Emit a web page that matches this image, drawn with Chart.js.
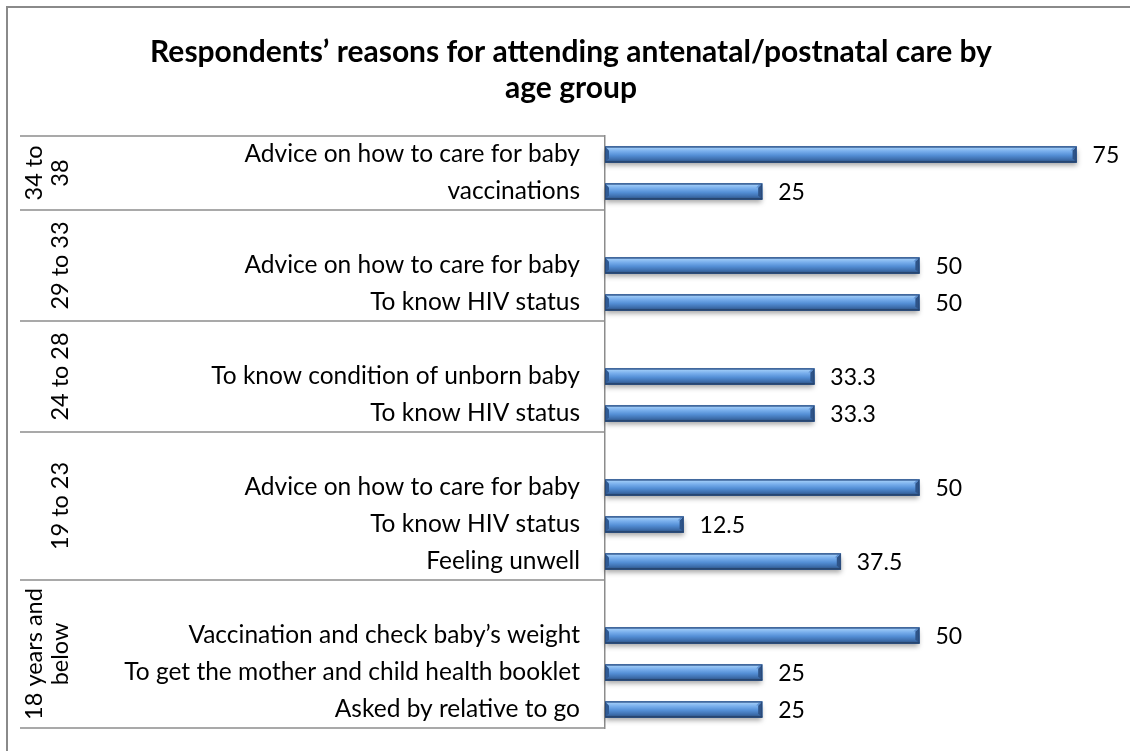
<!DOCTYPE html>
<html>
<head>
<meta charset="utf-8">
<script src="https://cdn.jsdelivr.net/npm/chart.js@4/dist/chart.umd.min.js"></script>
<style>
  html, body { margin: 0; padding: 0; background: #fff; }
  canvas { display: block; }
</style>
</head>
<body>
<canvas id="c" width="1130" height="751"></canvas>
<script>
// Reasons, listed top to bottom; empty strings are spacer rows at the head of a group
const reasons = [
  'Advice on how to care for baby',
  'vaccinations',
  '',
  'Advice on how to care for baby',
  'To know HIV status',
  '',
  'To know condition of unborn baby',
  'To know HIV status',
  '',
  'Advice on how to care for baby',
  'To know HIV status',
  'Feeling unwell',
  '',
  'Vaccination and check baby\u2019s weight',
  'To get the mother and child health booklet',
  'Asked by relative to go'
];

// Percentage of respondents per reason (null = spacer row)
const percents = [75, 25, null, 50, 50, null, 33.3, 33.3, null, 50, 12.5, 37.5, null, 50, 25, 25];

// Age groups, each label split into lines, and how many rows each group spans
const ageGroups = [['34 to', '38'], ['29 to 33'], ['24 to 28'], ['19 to 23'], ['18 years and', 'below']];
const groupRows = [2, 3, 3, 4, 4];

const titleLines = ['Respondents\u2019 reasons for attending antenatal/postnatal care by', 'age group'];

const FONT = 'Lato, "Open Sans", sans-serif';
const LINE = '#8c8c8c';
const LABEL_SIZE = 24.5;
const GROUP_SIZE = 23.5;
const VALUE_SIZE = 23;

// Cylinder-like bar shading with bevelled ends and a soft drop shadow
const bevelBars = {
  id: 'bevelBars',
  afterDatasetsDraw(chart) {
    const ctx = chart.ctx;
    chart.getDatasetMeta(0).data.forEach((bar, i) => {
      if (percents[i] == null) return;
      const x0 = Math.min(bar.base, bar.x), x1 = Math.max(bar.base, bar.x);
      const h = bar.height, y0 = bar.y - h / 2, y1 = bar.y + h / 2;
      ctx.save();
      ctx.shadowColor = 'rgba(0,0,0,0.35)';
      ctx.shadowBlur = 5;
      ctx.shadowOffsetY = 3;
      ctx.fillStyle = '#3d6aa6';
      ctx.fillRect(x0, y0, x1 - x0, h);
      ctx.restore();

      ctx.save();
      const g = ctx.createLinearGradient(0, y0, 0, y1);
      g.addColorStop(0.0, '#4f7fbf');
      g.addColorStop(0.12, '#98c6f5');
      g.addColorStop(0.3, '#78aeec');
      g.addColorStop(0.55, '#548fd6');
      g.addColorStop(0.8, '#3e6fae');
      g.addColorStop(1.0, '#2b4e7e');
      ctx.fillStyle = g;
      ctx.fillRect(x0, y0, x1 - x0, h);

      const b = 4;
      ctx.fillStyle = '#2e5489';
      ctx.beginPath();
      ctx.moveTo(x1, y0); ctx.lineTo(x1, y1); ctx.lineTo(x1 - b, y1 - b); ctx.lineTo(x1 - b, y0 + b);
      ctx.closePath(); ctx.fill();
      ctx.fillStyle = '#5d8fd0';
      ctx.beginPath();
      ctx.moveTo(x1, y0); ctx.lineTo(x1 - b, y0 + b); ctx.lineTo(x1 - b - 2, y0 + b); ctx.lineTo(x1 - 2, y0);
      ctx.closePath(); ctx.fill();
      ctx.fillStyle = '#2f5a94';
      ctx.beginPath();
      ctx.moveTo(x0, y0); ctx.lineTo(x0 + b, y0 + b); ctx.lineTo(x0 + b, y1 - b); ctx.lineTo(x0, y1);
      ctx.closePath(); ctx.fill();
      ctx.fillStyle = '#274670';
      ctx.fillRect(x0, y1 - 1.5, x1 - x0, 1.5);
      ctx.strokeStyle = 'rgba(40,70,115,0.8)';
      ctx.lineWidth = 1;
      ctx.strokeRect(x0 + 0.5, y0 + 0.5, x1 - x0 - 1, h - 1);
      ctx.restore();
    });
  }
};

// Value labels to the right of each bar
const valueLabels = {
  id: 'valueLabels',
  afterDatasetsDraw(chart) {
    const ctx = chart.ctx;
    ctx.save();
    ctx.font = VALUE_SIZE + 'px ' + FONT;
    ctx.fillStyle = '#000';
    ctx.textAlign = 'left';
    ctx.textBaseline = 'middle';
    chart.getDatasetMeta(0).data.forEach((bar, i) => {
      if (percents[i] == null) return;
      ctx.fillText(String(percents[i]), bar.x + 16, bar.y + 1);
    });
    ctx.restore();
  }
};

// Outer frame, age-group separators and rotated group names
const groupAxis = {
  id: 'groupAxis',
  afterDraw(chart) {
    const ctx = chart.ctx, y = chart.scales.y, area = chart.chartArea;
    const axisX = area.left;
    const leftX = 20;
    ctx.save();
    ctx.strokeStyle = '#8a8a8a';
    ctx.lineWidth = 2;
    ctx.strokeRect(7, 7, 1300, 900);

    ctx.strokeStyle = LINE;
    ctx.lineWidth = 1.5;
    const bounds = [area.top];
    let idx = 0;
    groupRows.forEach(n => {
      idx += n;
      if (idx >= reasons.length) bounds.push(area.bottom);
      else bounds.push((y.getPixelForValue(idx - 1) + y.getPixelForValue(idx)) / 2);
    });
    bounds.forEach(by => {
      ctx.beginPath();
      ctx.moveTo(leftX, by);
      ctx.lineTo(axisX, by);
      ctx.stroke();
    });

    ctx.font = GROUP_SIZE + 'px ' + FONT;
    ctx.fillStyle = '#000';
    ctx.textAlign = 'center';
    ctx.textBaseline = 'middle';
    ageGroups.forEach((lines, g) => {
      const cy = (bounds[g] + bounds[g + 1]) / 2;
      const lh = 26;
      const lastX = 60;
      lines.forEach((t, k) => {
        const cx = lastX - (lines.length - 1 - k) * lh;
        ctx.save();
        ctx.translate(cx, cy);
        ctx.rotate(-Math.PI / 2);
        ctx.fillText(t, 0, 0);
        ctx.restore();
      });
    });
    ctx.restore();
  }
};

new Chart(document.getElementById('c'), {
  type: 'bar',
  data: {
    labels: reasons,
    datasets: [{
      data: percents,
      backgroundColor: '#4f81bd',
      barThickness: 16
    }]
  },
  options: {
    indexAxis: 'y',
    responsive: false,
    animation: false,
    devicePixelRatio: 1,
    layout: { padding: { left: 34, right: 22, top: 7, bottom: 23 } },
    plugins: {
      legend: { display: false },
      tooltip: { enabled: false },
      title: {
        display: true,
        text: titleLines,
        color: '#000',
        font: { family: FONT, size: 30, weight: 'bold', lineHeight: 1.2 },
        padding: { top: 27, bottom: 30 }
      }
    },
    scales: {
      x: { display: false, min: 0, max: 80 },
      y: {
        afterFit(scale) {
          scale.width = 571;
          scale.paddingTop = 0;
          scale.paddingBottom = 0;
        },
        grid: { display: false, drawTicks: false },
        border: { display: true, color: LINE, width: 1.5 },
        ticks: {
          autoSkip: false,
          padding: 25,
          color: '#000',
          font: { family: FONT, size: LABEL_SIZE }
        }
      }
    }
  },
  plugins: [bevelBars, valueLabels, groupAxis]
});
</script>
</body>
</html>
